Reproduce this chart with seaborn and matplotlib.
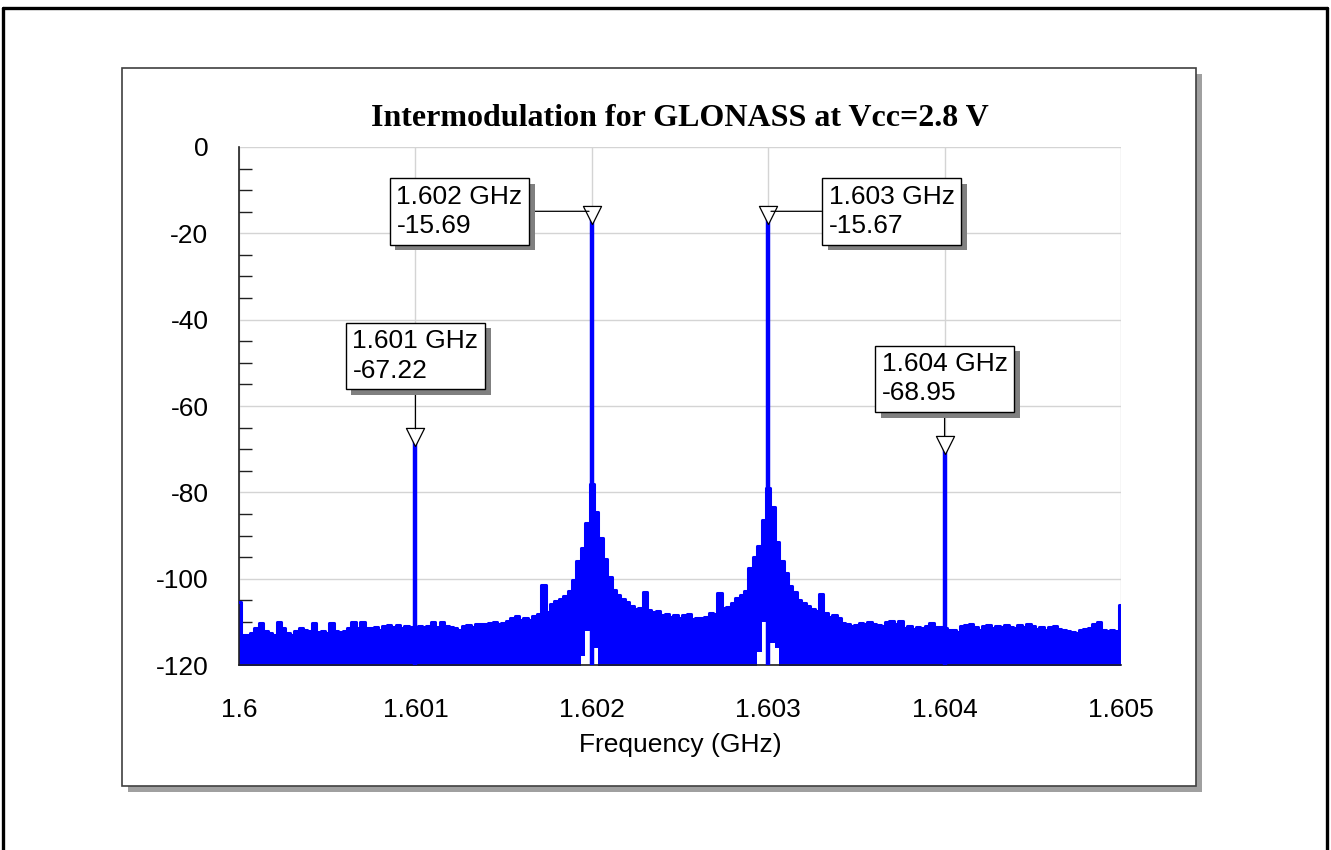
import numpy as np
import pandas as pd
import matplotlib
matplotlib.use("Agg")
import matplotlib.pyplot as plt
import matplotlib.patheffects as pe
from matplotlib.patches import Rectangle
from matplotlib.lines import Line2D
import seaborn as sns

# ---------------- data ----------------
freq_start, freq_stop = 1.600, 1.605
# upper envelope of the measured spectrum (dBm), 201 samples from 1.600 to 1.605 GHz
floor_level = [
    -105.5, -113.0, -113.0, -112.5, -111.5, -110.2, -112.0, -112.5, -113.0, -110.0,
    -111.5, -112.5, -113.0, -112.0, -111.5, -111.8, -112.0, -110.3, -112.3, -112.0,
    -112.5, -110.3, -112.0, -112.3, -112.0, -111.5, -110.0, -111.5, -110.0, -111.5,
    -111.5, -111.2, -111.8, -111.0, -110.8, -111.2, -110.8, -111.5, -111.0, -111.3,
    -111.2, -111.0, -111.2, -111.0, -110.0, -111.3, -110.0, -111.0, -111.2, -111.5,
    -111.8, -111.0, -110.8, -111.2, -110.6, -110.4, -110.6, -110.3, -110.0, -110.6,
    -110.2, -109.8, -109.2, -108.6, -109.5, -109.2, -109.6, -108.6, -108.2, -101.5,
    -107.8, -105.8, -105.2, -104.6, -104.0, -102.8, -100.2, -95.8, -93.0, -87.0,
    -78.0, -84.5, -90.5, -95.5, -99.5, -102.6, -103.8, -104.8, -105.5, -106.3,
    -107.0, -106.8, -103.0, -107.3, -107.8, -107.5, -108.5, -108.2, -108.8, -108.5,
    -109.0, -108.4, -108.2, -109.3, -109.0, -109.2, -108.8, -108.0, -108.2, -103.3,
    -106.8, -106.5, -105.7, -104.5, -103.8, -102.8, -97.5, -95.0, -92.5, -86.5,
    -79.0, -83.5, -91.5, -96.0, -98.7, -101.8, -103.0, -105.0, -105.6, -106.4,
    -107.0, -107.4, -103.6, -108.0, -108.8, -108.5, -109.0, -110.3, -110.6, -111.0,
    -110.8, -110.3, -110.6, -110.0, -110.4, -110.7, -111.0, -110.0, -109.8, -110.6,
    -109.7, -111.5, -111.0, -111.7, -111.2, -111.5, -111.0, -110.3, -111.3, -111.2,
    -111.5, -111.8, -111.8, -112.3, -111.0, -110.8, -110.5, -111.2, -111.8, -111.0,
    -110.7, -111.5, -111.0, -111.3, -110.8, -111.3, -111.5, -110.8, -111.2, -110.6,
    -110.9, -111.6, -111.3, -111.8, -111.2, -110.9, -111.6, -111.8, -112.2, -112.4,
    -112.5, -111.8, -111.6, -111.5, -110.5, -110.0, -111.8, -112.0, -111.8, -112.0,
    -106.0,
]
# lower envelope lifts near the two carriers (elsewhere below the axis)
notch_freq = [1.601925, 1.601950, 1.601975, 1.602000, 1.602025,
              1.602925, 1.602950, 1.602975, 1.603000, 1.603025, 1.603050]
notch_level = [-121.0, -118.0, -112.0, -108.0, -116.0,
               -121.0, -117.0, -110.0, -106.0, -115.0, -116.0]

# marked peaks
peak_freq = [1.601, 1.602, 1.603, 1.604]
peak_level = [-67.22, -15.69, -15.67, -68.95]
peak_label = ["1.601 GHz\n-67.22", "1.602 GHz\n-15.69", "1.603 GHz\n-15.67", "1.604 GHz\n-68.95"]

xticks = [1.600, 1.601, 1.602, 1.603, 1.604, 1.605]
xtick_labels = ["1.6", "1.601", "1.602", "1.603", "1.604", "1.605"]
yticks = [0, -20, -40, -60, -80, -100, -120]
ytick_labels = ["0", "-20", "-40", "-60", "-80", "-100", "-120"]

title = "Intermodulation for GLONASS at Vcc=2.8 V"
xlabel = "Frequency (GHz)"

# ---------------- build frame ----------------
freq = np.linspace(freq_start, freq_stop, len(floor_level))
upper = np.array(floor_level)
lower = np.full(len(freq), -130.0)
for f, l in zip(notch_freq, notch_level):
    lower[int(round((f - freq_start) / (freq[1] - freq[0])))] = l
df = pd.DataFrame({"freq": freq, "level": upper})

# ---------------- style ----------------
sns.set_theme(style="white")
plt.rcParams["font.family"] = ["Liberation Sans", "DejaVu Sans"]
plt.rcParams["axes.unicode_minus"] = False
plt.rcParams["text.color"] = "black"
plt.rcParams["xtick.color"] = "black"
plt.rcParams["ytick.color"] = "black"
plt.rcParams["axes.labelcolor"] = "black"

fig = plt.figure(figsize=(13.31, 8.5), dpi=100)
fig.patch.set_facecolor("white")

# outer page border (left, top, right)
for xs, ys in [([0.0023, 0.0023], [0.9906, 0.0]),
               ([0.0023, 0.997], [0.9906, 0.9906]),
               ([0.997, 0.997], [0.9906, 0.0])]:
    fig.add_artist(Line2D(xs, ys, transform=fig.transFigure, color="black", lw=2.4))

# inner panel with shadow
panel = Rectangle((0.0917, 0.0753), 0.807, 0.8447, transform=fig.transFigure,
                  fc="white", ec="#404040", lw=1.2, zorder=0)
panel.set_path_effects([pe.SimplePatchShadow(offset=(4, -4), shadow_rgbFace="#a0a0a0", alpha=1.0),
                        pe.Normal()])
fig.add_artist(panel)

ax = fig.add_axes([0.1796, 0.2176, 0.6626, 0.6095])
ax.set_facecolor("none")
ax.set_zorder(2)

blue = "#0000ff"
ax.fill_between(freq, lower, upper, step="mid", color=blue, lw=0, zorder=2)
sns.lineplot(data=df, x="freq", y="level", ax=ax, color=blue, lw=2.2,
             drawstyle="steps-mid", estimator=None, zorder=3)

# carrier / product lines
ax.vlines(peak_freq, -120, peak_level, color=blue, lw=3.2, zorder=4)
sns.scatterplot(x=peak_freq, y=peak_level, ax=ax, marker="v", s=170,
                facecolor="white", edgecolor="black", linewidth=0.9, zorder=6)

# marker annotations (box centre, and point where the leader line meets the marker)
ann_xy = [(1.601, -48.4), (1.60125, -14.9), (1.6037, -14.9), (1.604, -53.7)]
lead_y = [-67.22, -14.9, -14.9, -68.95]
for (fx, fy), ly, px, txt in zip(ann_xy, lead_y, peak_freq, peak_label):
    ax.annotate(txt, xy=(px, ly), xytext=(fx, fy), textcoords="data",
                ha="center", va="center", multialignment="left", fontsize=19,
                linespacing=1.28, color="black", zorder=7,
                bbox=dict(boxstyle="square,pad=0.25", fc="white", ec="black", lw=1.0,
                          path_effects=[pe.SimplePatchShadow(offset=(4, -4), shadow_rgbFace="#808080", alpha=1.0),
                                        pe.Normal()]),
                arrowprops=dict(arrowstyle="-", color="black", lw=0.9,
                                shrinkA=0, shrinkB=6 if px in (1.601, 1.604) else 2))

ax.set_xlim(freq_start, freq_stop)
ax.set_ylim(-120, 0)
ax.set_xticks(xticks)
ax.set_xticklabels(xtick_labels, fontsize=19)
ax.set_yticks(yticks)
ax.set_yticklabels(ytick_labels, fontsize=19)
ax.set_yticks(np.arange(-115, 0, 5), minor=True)
ax.tick_params(axis="x", which="major", length=0, pad=24)
ax.tick_params(axis="y", which="major", length=0, pad=22)
ax.tick_params(axis="y", which="minor", direction="in", length=9, width=1, color="#202020", left=True)
ax.grid(True, which="major", color="#d4d4d4", lw=1.0, zorder=0)
ax.set_axisbelow(True)
for s in ["top", "right"]:
    ax.spines[s].set_visible(False)
ax.spines["left"].set_color("#202020")
ax.spines["left"].set_linewidth(1.2)
ax.spines["bottom"].set_color("#202020")
ax.spines["bottom"].set_linewidth(1.2)
ax.set_xlabel(xlabel, fontsize=19, labelpad=8)
ax.set_ylabel("")
ax.set_title(title, fontsize=23, fontweight="bold", color="black",
             family=["Liberation Serif", "DejaVu Serif"], pad=15)

fig.savefig("out.png", dpi=100, facecolor="white")
